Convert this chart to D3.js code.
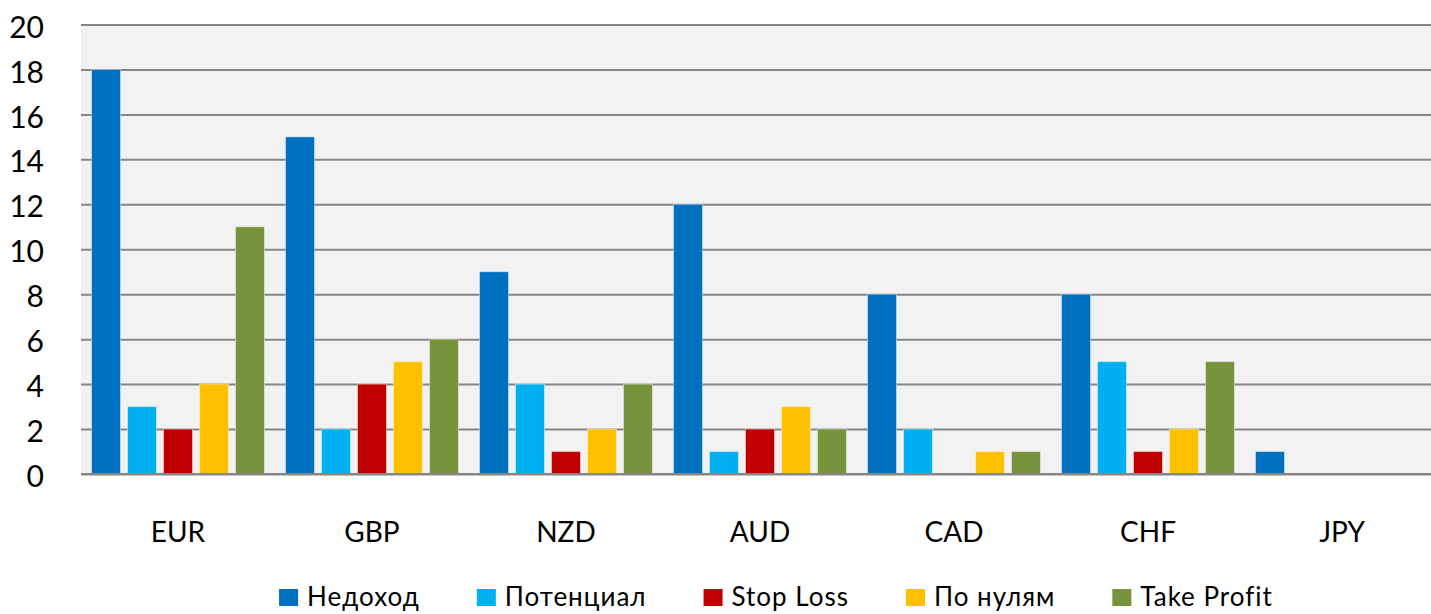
<!DOCTYPE html>
<html>
<head>
<meta charset="utf-8">
<script src="https://cdn.jsdelivr.net/npm/d3@7"></script>
<style>
  body { margin: 0; background: #fff; }
  svg text { font-family: Lato, "Noto Sans", sans-serif; fill: #000; }
  .grid line { stroke: #868686; stroke-width: 2; }
  .grid .domain { display: none; }
  .y-axis .domain, .x-axis .domain { display: none; }
  .y-axis line, .x-axis line { display: none; }
</style>
</head>
<body>
<div id="chart"></div>
<script>
// chart data
var categories = ["EUR", "GBP", "NZD", "AUD", "CAD", "CHF", "JPY"];
var seriesNames = ["Недоход", "Потенциал", "Stop Loss", "По нулям", "Take Profit"];
var seriesColors = ["#0070C0", "#00B0F0", "#C00000", "#FFC000", "#77933C"];
var nedohod   = [18, 15, 9, 12, 8, 8, 1];
var potencial = [3, 2, 4, 1, 2, 5, 0];
var stopLoss  = [2, 4, 1, 2, 0, 1, 0];
var poNulyam  = [4, 5, 2, 3, 1, 2, 0];
var takeProfit = [11, 6, 4, 2, 1, 5, 0];
var yTicks = [0, 2, 4, 6, 8, 10, 12, 14, 16, 18, 20];

var seriesValues = [nedohod, potencial, stopLoss, poNulyam, takeProfit];

// build rows for the grouped bars
var data = categories.map(function(c, i) {
  return {
    category: c,
    values: seriesNames.map(function(s, j) { return { name: s, value: seriesValues[j][i] }; })
  };
});

var margin = { top: 24.5, right: 0, bottom: 140, left: 81 };
var totalW = 1431, totalH = 614;
var width = 1358;
var height = 474 - margin.top;

var svg = d3.select("#chart").append("svg")
  .attr("width", totalW)
  .attr("height", totalH);

var g = svg.append("g")
  .attr("transform", "translate(" + margin.left + "," + margin.top + ")");

// scales
var x0 = d3.scaleBand()
  .domain(categories)
  .range([0, width])
  .padding(0);

var x1 = d3.scaleBand()
  .domain(seriesNames)
  .range([10.5, x0.bandwidth() - 10.5])
  .paddingInner(0.194)
  .paddingOuter(0);

var y = d3.scaleLinear()
  .domain([0, 20])
  .range([height, 0]);

var color = d3.scaleOrdinal()
  .domain(seriesNames)
  .range(seriesColors);

// plot background
g.append("rect")
  .attr("x", 0)
  .attr("y", 0)
  .attr("width", width)
  .attr("height", height)
  .attr("fill", "#f2f2f2");

// gridlines
g.append("g")
  .attr("class", "grid")
  .call(d3.axisLeft(y).tickValues(yTicks).tickSize(-width).tickFormat(""));

// bars
var groups = g.selectAll(".group")
  .data(data)
  .enter()
  .append("g")
  .attr("class", "group")
  .attr("transform", function(d) { return "translate(" + x0(d.category) + ",0)"; });

groups.selectAll("rect")
  .data(function(d) { return d.values.filter(function(v) { return v.value > 0; }); })
  .enter()
  .append("rect")
  .attr("x", function(d) { return x1(d.name); })
  .attr("width", x1.bandwidth())
  .attr("y", function(d) { return y(d.value); })
  .attr("height", function(d) { return height - y(d.value); })
  .attr("fill", function(d) { return color(d.name); })
  .attr("stroke", "rgba(255,255,255,0.45)")
  .attr("stroke-width", 1);

// baseline
g.append("line")
  .attr("x1", 0)
  .attr("x2", width)
  .attr("y1", y(0))
  .attr("y2", y(0))
  .attr("stroke", "#868686")
  .attr("stroke-width", 2);

// y axis labels
var yAxis = g.append("g")
  .attr("class", "y-axis")
  .call(d3.axisLeft(y).tickValues(yTicks).tickSize(0).tickPadding(37));

yAxis.selectAll("text")
  .attr("font-size", 30)
  .attr("dy", "0.42em");

// x axis labels
var xAxis = g.append("g")
  .attr("class", "x-axis")
  .attr("transform", "translate(0," + height + ")")
  .call(d3.axisBottom(x0).tickSize(0).tickPadding(0));

xAxis.selectAll("text")
  .attr("font-size", 28)
  .attr("dy", 0)
  .attr("y", 68);

// legend
var legend = svg.append("g").attr("class", "legend");

var items = legend.selectAll(".item")
  .data(seriesNames)
  .enter()
  .append("g")
  .attr("class", "item");

items.append("rect")
  .attr("width", 19)
  .attr("height", 17)
  .attr("y", 589)
  .attr("fill", function(d) { return color(d); });

items.append("text")
  .attr("x", 28)
  .attr("y", 606)
  .attr("font-size", 26)
  .attr("letter-spacing", "1px")
  .text(function(d) { return d; });

// lay out legend items side by side, centred where the original sits
var pos = 0;
var offsets = [];
items.each(function() {
  offsets.push(pos);
  var w = d3.select(this).select("text").node().getComputedTextLength();
  pos += 28 + w + 57;
});
var legendW = pos - 57;
var legendX = 776 - legendW / 2;
items.attr("transform", function(d, i) { return "translate(" + (legendX + offsets[i]) + ",0)"; });
</script>
</body>
</html>
